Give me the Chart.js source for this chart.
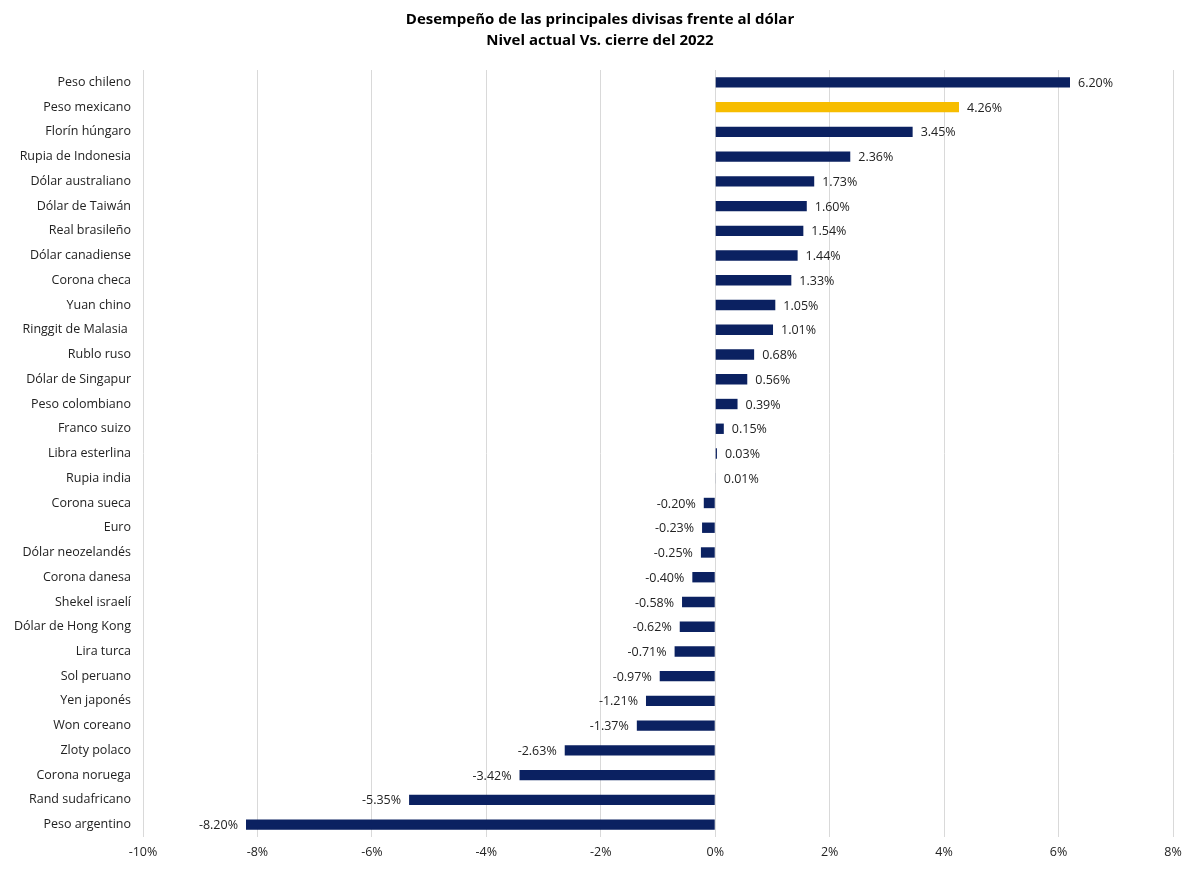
<!DOCTYPE html>
<html>
<head>
<meta charset="utf-8">
<script src="https://cdn.jsdelivr.net/npm/chart.js@4"></script>
<style>
  html, body { margin: 0; padding: 0; background: #fff; }
  #wrap { width: 1200px; height: 872px; }
</style>
</head>
<body>
<div id="wrap"><canvas id="myChart" width="1200" height="872"></canvas></div>
<script>
// divisas y variacion (%) frente al cierre de 2022
var divisas = ["Peso chileno", "Peso mexicano", "Florín húngaro", "Rupia de Indonesia",
  "Dólar australiano", "Dólar de Taiwán", "Real brasileño", "Dólar canadiense",
  "Corona checa", "Yuan chino", "Ringgit de Malasia ", "Rublo ruso",
  "Dólar de Singapur", "Peso colombiano", "Franco suizo", "Libra esterlina",
  "Rupia india", "Corona sueca", "Euro", "Dólar neozelandés", "Corona danesa",
  "Shekel israelí", "Dólar de Hong Kong", "Lira turca", "Sol peruano",
  "Yen japonés", "Won coreano", "Zloty polaco", "Corona noruega",
  "Rand sudafricano", "Peso argentino"];
var variacion = [6.20, 4.26, 3.45, 2.36, 1.73, 1.60, 1.54, 1.44, 1.33, 1.05, 1.01,
  0.68, 0.56, 0.39, 0.15, 0.03, 0.01, -0.20, -0.23, -0.25, -0.40, -0.58, -0.62,
  -0.71, -0.97, -1.21, -1.37, -2.63, -3.42, -5.35, -8.20];
var destacada = "Peso mexicano";
var titulo = ["Desempeño de las principales divisas frente al dólar", "Nivel actual Vs. cierre del 2022"];

var fuente = "'Open Sans', 'Noto Sans', sans-serif";
var azul = "#0b2161";
var amarillo = "#f7bd00";

var colores = divisas.map(function (d) { return d === destacada ? amarillo : azul; });

// titulo centrado en todo el lienzo
var encabezado = {
  id: "encabezado",
  afterDraw: function (chart) {
    var ctx = chart.ctx;
    ctx.save();
    ctx.font = "bold 15px " + fuente;
    ctx.fillStyle = "#000";
    ctx.textAlign = "center";
    ctx.textBaseline = "middle";
    ctx.fillText(titulo[0], chart.width / 2, 20);
    ctx.fillText(titulo[1], chart.width / 2, 41);
    ctx.restore();
  }
};

// etiquetas con el valor al final de cada barra
var etiquetas = {
  id: "etiquetas",
  afterDatasetsDraw: function (chart) {
    var ctx = chart.ctx;
    var meta = chart.getDatasetMeta(0);
    ctx.save();
    ctx.font = "12.5px " + fuente;
    ctx.fillStyle = "#222";
    ctx.textBaseline = "middle";
    meta.data.forEach(function (bar, i) {
      var v = variacion[i];
      var txt = v.toFixed(2) + "%";
      if (v >= 0) {
        ctx.textAlign = "left";
        ctx.fillText(txt, bar.x + 8, bar.y + 1);
      } else {
        ctx.textAlign = "right";
        ctx.fillText(txt, bar.x - 8, bar.y + 1);
      }
    });
    ctx.restore();
  }
};

new Chart(document.getElementById("myChart"), {
  type: "bar",
  data: {
    labels: divisas,
    datasets: [{
      data: variacion,
      backgroundColor: colores,
      barPercentage: 0.42,
      categoryPercentage: 1
    }]
  },
  options: {
    indexAxis: "y",
    responsive: false,
    animation: false,
    layout: { padding: { left: 0, right: 27, top: 70, bottom: 0 } },
    plugins: {
      legend: { display: false },
      tooltip: { enabled: false },
      title: { display: false }
    },
    scales: {
      x: {
        min: -10,
        max: 8,
        ticks: {
          stepSize: 2,
          color: "#222",
          font: { family: fuente, size: 12.5 },
          padding: 8,
          callback: function (v) { return v + "%"; }
        },
        grid: { color: "#d9d9d9", drawTicks: false },
        border: { display: false },
        afterFit: function (s) { s.height = 35; }
      },
      y: {
        ticks: {
          color: "#222",
          font: { family: fuente, size: 12.5 },
          padding: 12,
          autoSkip: false
        },
        grid: { display: false, drawTicks: false },
        border: { display: false },
        afterFit: function (s) { s.width = 143; }
      }
    }
  },
  plugins: [etiquetas, encabezado]
});
</script>
</body>
</html>
